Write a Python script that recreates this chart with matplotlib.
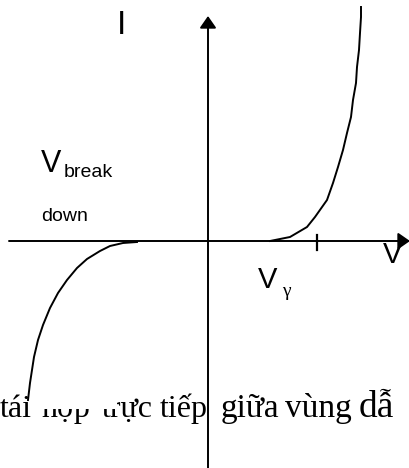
import matplotlib
matplotlib.use('Agg')
import matplotlib.pyplot as plt
from matplotlib.patches import Rectangle

# diode I-V sketch, coordinates measured from the origin of the axes
fwd_v = [62, 82, 99, 107, 119, 125, 130, 135, 139, 143, 145, 148, 149, 151, 152, 153, 153]
fwd_i = [0, 4, 14, 24, 41, 58, 74, 91, 108, 124, 141, 158, 174, 191, 208, 224, 234]
rev_v = [-71, -85, -98, -108, -121, -131, -141, -150, -158, -165, -170, -174, -176, -178, -180]
rev_i = [-1, -2, -5, -10, -18, -27, -39, -52, -67, -84, -99, -116, -129, -142, -159]

v_axis = [-199, 202]
i_axis = [-227, 225]
v_gamma_tick = 109

# justified line of text from the page underneath
caption_words = ['tái', 'hợp', 'trực', 'tiếp', 'giữa', 'vùng', 'dẫ']
caption_x = [-208, -166, -106, -48, 13, 77, 151]
caption_size = [23, 23, 23, 23, 24, 24, 27]
caption_y = -176

fig = plt.figure(figsize=(4.1, 4.68), dpi=100)
ax = fig.add_axes([0, 0, 1, 1])
ax.set_xlim(-208, 202)
ax.set_ylim(-227, 241)
ax.axis('off')

sans = 'Liberation Sans'
serif = 'Liberation Serif'

# axes with arrow heads
arrow = dict(arrowstyle='-|>,head_length=0.72,head_width=0.5', color='black',
             lw=1.4, shrinkA=0, shrinkB=0, mutation_scale=10)
ax.annotate('', xy=(v_axis[1], 0), xytext=(v_axis[0], 0), arrowprops=arrow, zorder=3)
ax.annotate('', xy=(0, i_axis[1]), xytext=(0, i_axis[0]), arrowprops=arrow, zorder=5)

# V_gamma tick
ax.plot([v_gamma_tick, v_gamma_tick], [-9, 6], color='black', lw=1.6, zorder=3)

# curves
ax.plot(fwd_v, fwd_i, color='black', lw=1.4, solid_joinstyle='round', zorder=3)
ax.plot(rev_v, rev_i, color='black', lw=1.4, solid_joinstyle='round', zorder=3)

# labels
ax.text(-91, 216, 'I', fontsize=24, family=sans, ha='left', va='center')
ax.text(-167, 69, 'V', fontsize=22, family=sans, ha='left', va='baseline')
ax.text(-144, 64, 'break', fontsize=14, family=sans, ha='left', va='baseline')
ax.text(-167, 20, 'down', fontsize=14, family=sans, ha='left', va='baseline')
ax.text(175, -22, 'V', fontsize=21, family=sans, ha='left', va='baseline')
ax.text(50, -47, 'V', fontsize=21, family=sans, ha='left', va='baseline')
ax.text(74, -55, 'γ', fontsize=14, family=serif, ha='left', va='baseline')

# caption words, upper part of two words covered
for word, x, size in zip(caption_words, caption_x, caption_size):
    ax.text(x, caption_y, word, fontsize=size, family=serif, ha='left', va='baseline', zorder=2)
ax.add_patch(Rectangle((-169, -168), 78, 30, facecolor='white', edgecolor='none', zorder=2.5))

fig.savefig('out.png', dpi=100)
